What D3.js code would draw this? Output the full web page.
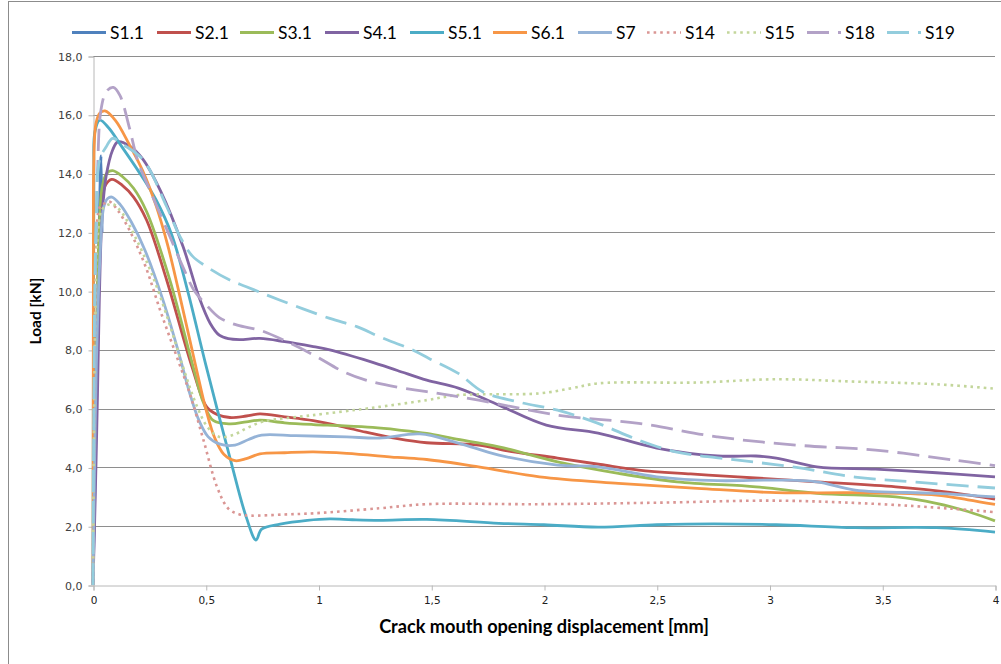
<!DOCTYPE html>
<html>
<head>
<meta charset="utf-8">
<script src="https://cdn.jsdelivr.net/npm/d3@7/dist/d3.min.js"></script>
<style>
  html, body { margin: 0; padding: 0; background: #fff; }
  svg { display: block; }
</style>
</head>
<body>
<svg id="chart" width="1001" height="664"></svg>
<script>
// ---------------- DATA ----------------
const seriesNames = ["S1.1", "S2.1", "S3.1", "S4.1", "S5.1", "S6.1", "S7", "S14", "S15", "S18", "S19"];

const xTickValues = [0, 0.5, 1, 1.5, 2, 2.5, 3, 3.5, 4];
const xTickLabels = ["0", "0,5", "1", "1,5", "2", "2,5", "3", "3,5", "4"];
const yTickValues = [0, 2, 4, 6, 8, 10, 12, 14, 16, 18];
const yTickLabels = ["0,0", "2,0", "4,0", "6,0", "8,0", "10,0", "12,0", "14,0", "16,0", "18,0"];

const s1_1 = [[0,0],[0.01,4],[0.02,9],[0.03,13.2],[0.036,14.6],[0.04,12.0]];
const s2_1 = [[0,0],[0.005,3],[0.015,8],[0.025,11.2],[0.036,12.9],[0.055,13.6],[0.083,13.8],[0.13,13.6],[0.18,13.2],[0.238,12.41],[0.327,10.37],[0.44,7.4],[0.504,6.06],[0.55,5.8],[0.607,5.7],[0.68,5.75],[0.74,5.82],[0.85,5.72],[0.977,5.59],[1.1,5.4],[1.21,5.2],[1.35,4.98],[1.48,4.84],[1.71,4.76],[1.85,4.55],[2.06,4.32],[2.25,4.1],[2.42,3.91],[2.65,3.78],[2.86,3.68],[3.21,3.51],[3.56,3.34],[3.8,3.15],[4.0,2.92]];
const s3_1 = [[0,0],[0.005,3],[0.015,8],[0.025,11.5],[0.04,13.5],[0.06,14.0],[0.087,14.1],[0.13,13.9],[0.18,13.5],[0.238,12.7],[0.34,10.4],[0.445,7.4],[0.49,6.2],[0.533,5.6],[0.607,5.48],[0.68,5.55],[0.74,5.61],[0.85,5.52],[0.977,5.46],[1.1,5.42],[1.24,5.36],[1.35,5.28],[1.48,5.16],[1.6,4.98],[1.8,4.7],[2.06,4.19],[2.33,3.8],[2.59,3.51],[2.94,3.34],[3.21,3.12],[3.56,3.0],[3.74,2.78],[3.88,2.5],[4.0,2.18]];
const s4_1 = [[0,0],[0.01,3],[0.02,6.5],[0.028,9.7],[0.04,12.5],[0.058,13.9],[0.087,14.8],[0.11,15.08],[0.16,14.95],[0.22,14.5],[0.3,13.4],[0.4,11.5],[0.47,9.8],[0.52,8.9],[0.56,8.5],[0.6,8.38],[0.65,8.35],[0.74,8.39],[0.85,8.28],[0.977,8.11],[1.05,8.0],[1.23,7.6],[1.35,7.3],[1.48,6.97],[1.62,6.7],[1.8,6.12],[2.01,5.44],[2.24,5.17],[2.5,4.66],[2.77,4.39],[2.94,4.39],[3.03,4.32],[3.21,4.02],[3.47,3.94],[3.74,3.82],[4.0,3.68]];
const s5_1 = [[0,0],[0.002,8],[0.004,14],[0.008,15.4],[0.03,15.82],[0.07,15.55],[0.12,15.0],[0.2,14.1],[0.28,13.1],[0.35,11.9],[0.42,10.0],[0.5,7.5],[0.61,4.25],[0.68,2.3],[0.723,1.53],[0.748,1.9],[0.83,2.07],[0.95,2.2],[1.05,2.25],[1.15,2.22],[1.27,2.2],[1.48,2.23],[1.8,2.1],[2.0,2.05],[2.24,1.97],[2.5,2.05],[2.75,2.08],[3.03,2.05],[3.38,1.95],[3.74,1.95],[4.0,1.8]];
const s6_1 = [[0,0],[0.001,6],[0.002,12],[0.003,14.2],[0.013,15.7],[0.03,16.05],[0.053,16.13],[0.1,15.8],[0.16,15.0],[0.22,14.1],[0.28,12.9],[0.33,11.6],[0.377,10.1],[0.46,7.3],[0.5,6.0],[0.54,5.0],[0.58,4.45],[0.63,4.23],[0.68,4.3],[0.74,4.46],[0.85,4.5],[0.977,4.53],[1.125,4.48],[1.35,4.34],[1.48,4.27],[1.71,4.02],[1.98,3.68],[2.33,3.46],[2.68,3.29],[3.03,3.14],[3.38,3.14],[3.74,3.06],[3.88,2.9],[4.0,2.74]];
const s7 = [[0,0],[0.005,3],[0.015,7.5],[0.03,11],[0.048,12.87],[0.065,13.15],[0.084,13.2],[0.12,12.95],[0.17,12.35],[0.23,11.4],[0.31,9.7],[0.38,7.9],[0.43,6.5],[0.47,5.6],[0.51,5.05],[0.56,4.8],[0.63,4.76],[0.69,4.95],[0.748,5.1],[0.9,5.08],[1.125,5.04],[1.27,5.0],[1.45,5.14],[1.62,4.83],[1.8,4.42],[2.06,4.08],[2.24,4.02],[2.5,3.68],[2.77,3.55],[3.03,3.57],[3.21,3.51],[3.38,3.23],[3.74,3.12],[4.0,3.0]];
const s14 = [[0,0],[0.003,4],[0.008,9],[0.015,11.8],[0.031,12.87],[0.055,13.0],[0.075,13.04],[0.11,12.75],[0.16,12.1],[0.23,10.9],[0.3,9.3],[0.37,7.8],[0.43,6.5],[0.49,4.93],[0.55,3.34],[0.6,2.6],[0.65,2.4],[0.7,2.36],[0.85,2.4],[0.98,2.44],[1.27,2.61],[1.48,2.75],[1.98,2.75],[2.5,2.8],[3.03,2.87],[3.47,2.76],[3.8,2.6],[4.0,2.48]];
const s15 = [[0,0],[0.003,4],[0.01,9],[0.02,11.8],[0.04,12.77],[0.07,12.95],[0.09,12.96],[0.13,12.65],[0.19,11.8],[0.26,10.6],[0.33,9.1],[0.4,7.4],[0.46,6.1],[0.51,5.35],[0.56,5.04],[0.62,5.1],[0.68,5.33],[0.755,5.56],[0.977,5.78],[1.21,6.0],[1.27,6.06],[1.48,6.29],[1.62,6.46],[1.98,6.52],[2.12,6.69],[2.24,6.86],[2.68,6.89],[3.03,7.0],[3.38,6.92],[3.74,6.83],[4.0,6.68]];
const s18 = [[0,0],[0.004,5],[0.01,10],[0.02,14],[0.036,16.2],[0.06,16.8],[0.09,16.93],[0.12,16.65],[0.16,15.6],[0.2,14.4],[0.26,13.3],[0.333,12.0],[0.4,10.8],[0.45,10.0],[0.5,9.55],[0.56,9.1],[0.64,8.84],[0.74,8.67],[0.86,8.28],[0.98,7.82],[1.11,7.26],[1.21,6.97],[1.35,6.73],[1.48,6.58],[1.71,6.29],[2.06,5.78],[2.42,5.5],[2.77,5.04],[3.12,4.76],[3.47,4.59],[3.82,4.25],[4.0,4.06]];
const s19 = [[0,0],[0.003,5],[0.008,10],[0.015,12.5],[0.03,14.5],[0.058,14.9],[0.087,15.2],[0.13,15.0],[0.223,14.46],[0.327,12.87],[0.386,11.85],[0.44,11.2],[0.504,10.83],[0.6,10.4],[0.68,10.15],[0.83,9.69],[1.05,9.07],[1.17,8.79],[1.27,8.45],[1.42,7.99],[1.49,7.71],[1.62,7.2],[1.73,6.57],[1.89,6.22],[2.06,5.95],[2.24,5.5],[2.42,4.93],[2.59,4.52],[2.86,4.25],[3.12,4.0],[3.38,3.67],[3.65,3.5],[4.0,3.3]];

const seriesValues = [s1_1, s2_1, s3_1, s4_1, s5_1, s6_1, s7, s14, s15, s18, s19];

const xTitle = "Crack mouth opening displacement [mm]";
const yTitle = "Load [kN]";

// ---------------- STYLE ----------------
const seriesStyle = [
  { color: "#4F81BD", dash: null,      width: 2.8 },
  { color: "#C0504D", dash: null,      width: 2.8 },
  { color: "#9BBB59", dash: null,      width: 2.8 },
  { color: "#8064A2", dash: null,      width: 2.8 },
  { color: "#4BACC6", dash: null,      width: 2.8 },
  { color: "#F79646", dash: null,      width: 2.8 },
  { color: "#95B3D7", dash: null,      width: 2.8 },
  { color: "#DA9694", dash: "2.6 4",   width: 2.6 },
  { color: "#C3D69B", dash: "2.6 4",   width: 2.6 },
  { color: "#B3A2C7", dash: "22 9",    width: 2.8 },
  { color: "#93CDDD", dash: "22 9",    width: 2.8 }
];

// ---------------- LAYOUT ----------------
const svg = d3.select("#chart");
const plot = { left: 93, right: 995, top: 56, bottom: 585 };

const x = d3.scaleLinear().domain([0, 4]).range([plot.left, plot.right]);
const y = d3.scaleLinear().domain([0, 18]).range([plot.bottom, plot.top]);

// chart frame
svg.append("rect")
  .attr("x", 8.5).attr("y", 1.5)
  .attr("width", 1020).attr("height", 700)
  .attr("fill", "none").attr("stroke", "#8c8c8c").attr("stroke-width", 1);

// gridlines
svg.append("g")
  .selectAll("line")
  .data(yTickValues.filter(v => v > 0))
  .join("line")
  .attr("x1", plot.left).attr("x2", plot.right)
  .attr("y1", d => Math.round(y(d)) + 0.5).attr("y2", d => Math.round(y(d)) + 0.5)
  .attr("stroke", "#8e8e8e").attr("stroke-width", 1);

// axes
const yAxis = d3.axisLeft(y).tickValues(yTickValues)
  .tickFormat((d, i) => yTickLabels[i]).tickSize(5).tickPadding(6);
const yg = svg.append("g").attr("transform", `translate(${plot.left + 0.5},0.5)`).call(yAxis);
yg.select(".domain").attr("stroke", "#b8b8b8");
yg.selectAll(".tick line").attr("stroke", "#b8b8b8");
yg.selectAll(".tick text")
  .attr("font-family", "DejaVu Sans, Verdana, sans-serif")
  .attr("font-size", "11px").attr("fill", "#404040");

const xAxis = d3.axisBottom(x).tickValues(xTickValues)
  .tickFormat((d, i) => xTickLabels[i]).tickSize(5).tickPadding(6);
const xg = svg.append("g").attr("transform", `translate(0.5,${plot.bottom + 0.5})`).call(xAxis);
xg.select(".domain").attr("stroke", "#b8b8b8");
xg.selectAll(".tick line").attr("stroke", "#b8b8b8");
xg.selectAll(".tick text")
  .attr("font-family", "DejaVu Sans, Verdana, sans-serif")
  .attr("font-size", "10.5px").attr("fill", "#202020");

// series
const line = d3.line()
  .x(d => x(d[0])).y(d => y(d[1]))
  .curve(d3.curveCatmullRom.alpha(0.5));

const gSeries = svg.append("g");
seriesValues.forEach((vals, i) => {
  const st = seriesStyle[i];
  gSeries.append("path")
    .datum(vals)
    .attr("d", line)
    .attr("fill", "none")
    .attr("stroke", st.color)
    .attr("stroke-width", st.width)
    .attr("stroke-linejoin", "round")
    .attr("stroke-dasharray", st.dash);
});

// axis titles
const xt = svg.append("text")
  .attr("x", 544).attr("y", 633)
  .attr("text-anchor", "middle")
  .attr("font-family", "Lato, 'Open Sans', sans-serif")
  .attr("font-weight", "bold")
  .attr("font-size", "17px")
  .attr("fill", "#000")
  .text(xTitle);
const xtLen = xt.node().getComputedTextLength();
xt.attr("font-size", (17 * 330 / xtLen).toFixed(2) + "px");

svg.append("text")
  .attr("transform", "translate(41,311) rotate(-90)")
  .attr("text-anchor", "middle")
  .attr("font-family", "Lato, 'Open Sans', sans-serif")
  .attr("font-weight", "bold")
  .attr("font-size", "15.5px")
  .attr("fill", "#000")
  .text(yTitle);

// legend
const legendX = [72, 157, 240, 325, 410, 493, 578, 647, 727, 807, 887];
const legend = svg.append("g");
seriesNames.forEach((name, i) => {
  const st = seriesStyle[i];
  const lx = legendX[i];
  legend.append("line")
    .attr("x1", lx).attr("x2", lx + 34)
    .attr("y1", 32.5).attr("y2", 32.5)
    .attr("stroke", st.color)
    .attr("stroke-width", st.width)
    .attr("stroke-dasharray", st.dash);
  legend.append("text")
    .attr("x", lx + 38).attr("y", 39)
    .attr("font-family", "Lato, 'Open Sans', sans-serif")
    .attr("font-size", "17.5px")
    .attr("fill", "#000")
    .text(name);
});
</script>
</body>
</html>
